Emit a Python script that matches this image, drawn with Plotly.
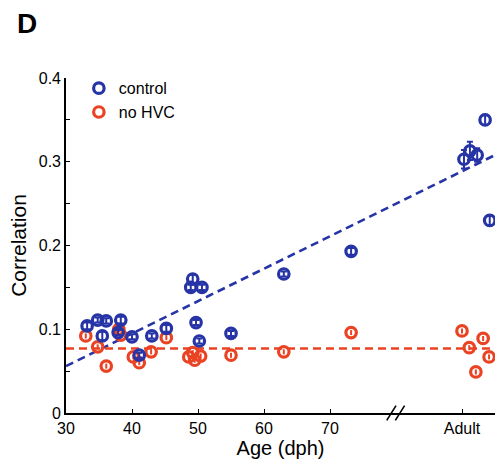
import plotly.graph_objects as go

# Age in days post-hatch; "Adult" birds are plotted in the segment past the axis break
control_age = [33.2, 34.8, 36.1, 38.3, 35.5, 37.9, 40.0, 43.0, 45.2, 41.1,
               48.9, 49.2, 50.6, 49.7, 50.2, 55.0, 63.0, 73.2,
               90.3, 91.2, 92.3, 93.5, 94.2]
control_corr = [0.104, 0.111, 0.110, 0.111, 0.092, 0.096, 0.091, 0.092, 0.101, 0.069,
                0.150, 0.160, 0.150, 0.108, 0.086, 0.095, 0.166, 0.193,
                0.303, 0.313, 0.308, 0.350, 0.230]
control_err = [0.004, 0.003, 0.003, 0.004, 0.005, 0.003, 0.003, 0.003, 0.004, 0.003,
               0.003, 0.005, 0.003, 0.003, 0.003, 0.003, 0.003, 0.004,
               0.011, 0.011, 0.008, 0.006, 0.006]

nohvc_age = [33.0, 34.8, 36.1, 38.0, 38.3, 40.2, 41.1, 42.9, 45.2,
             48.6, 49.2, 49.5, 50.4, 55.0, 63.0, 73.2,
             90.0, 91.1, 93.2, 92.1, 94.1]
nohvc_corr = [0.092, 0.079, 0.056, 0.100, 0.093, 0.067, 0.060, 0.073, 0.090,
              0.067, 0.072, 0.063, 0.068, 0.069, 0.073, 0.096,
              0.098, 0.078, 0.089, 0.049, 0.067]
nohvc_err = [0.003] * len(nohvc_age)

# Linear fits drawn as dashed lines
fit_x = [30, 95]
control_fit = [0.056, 0.308]
nohvc_fit = [0.077, 0.077]

x_tick_vals = [30, 40, 50, 60, 70, 90]
x_tick_text = ["30", "40", "50", "60", "70", "Adult"]

BLUE = "#2634a6"
RED = "#ea4324"

fig = go.Figure()

fig.add_trace(go.Scatter(x=fit_x, y=control_fit, mode="lines", showlegend=False,
                         line=dict(color=BLUE, width=2.6, dash="8px,5px"), hoverinfo="skip"))
fig.add_trace(go.Scatter(x=fit_x, y=nohvc_fit, mode="lines", showlegend=False,
                         line=dict(color=RED, width=2.6, dash="8px,5px"), hoverinfo="skip"))

fig.add_trace(go.Scatter(
    x=nohvc_age, y=nohvc_corr, mode="markers", name="no HVC",
    marker=dict(symbol="circle-open", size=10.5, color=RED, line=dict(width=3.2)),
    error_y=dict(type="data", array=nohvc_err, color=RED, thickness=2, width=0),
))
fig.add_trace(go.Scatter(
    x=control_age, y=control_corr, mode="markers", name="control",
    marker=dict(symbol="circle-open", size=10.5, color=BLUE, line=dict(width=3.2)),
    error_y=dict(type="data", array=control_err, color=BLUE, thickness=2, width=3),
))

# Axis break marks on the x axis
for dx in (0, 1.3):
    fig.add_shape(type="line", xref="x", yref="paper",
                  x0=78.6 + dx, x1=80.0 + dx, y0=-0.022, y1=0.022,
                  line=dict(color="black", width=1.6))

fig.add_annotation(text="<b>D</b>", xref="paper", yref="paper", x=-0.12, y=1.215,
                   xanchor="left", yanchor="top", showarrow=False,
                   font=dict(size=28, color="black"))

fig.update_layout(
    width=495, height=465,
    margin=dict(l=66, r=0, t=78, b=52),
    paper_bgcolor="white", plot_bgcolor="white",
    font=dict(family="Liberation Sans, Arial, sans-serif", color="black"),
    legend=dict(x=0.03, y=1.02, xanchor="left", yanchor="top",
                traceorder="reversed", font=dict(size=16),
                bgcolor="rgba(0,0,0,0)", itemwidth=30, tracegroupgap=0),
    xaxis=dict(range=[30, 95], showline=True, linecolor="black", linewidth=1.6,
               tickmode="array", tickvals=x_tick_vals, ticktext=x_tick_text,
               ticks="inside", ticklen=4, tickcolor="black",
               showgrid=False, zeroline=False, tickfont=dict(size=16),
               title=dict(text="Age (dph)", font=dict(size=20), standoff=0)),
    yaxis=dict(range=[0, 0.4], showline=True, linecolor="black", linewidth=1.6,
               tickvals=[0, 0.1, 0.2, 0.3, 0.4], ticktext=["0", "0.1", "0.2", "0.3", "0.4"],
               ticks="inside", ticklen=4, tickcolor="black",
               minor=dict(tickvals=[0.05, 0.15, 0.25, 0.35], ticks="inside", ticklen=4,
                          tickcolor="black"),
               showgrid=False, zeroline=False, tickfont=dict(size=16),
               title=dict(text="Correlation", font=dict(size=21), standoff=6)),
)

fig.write_html("out.html")
